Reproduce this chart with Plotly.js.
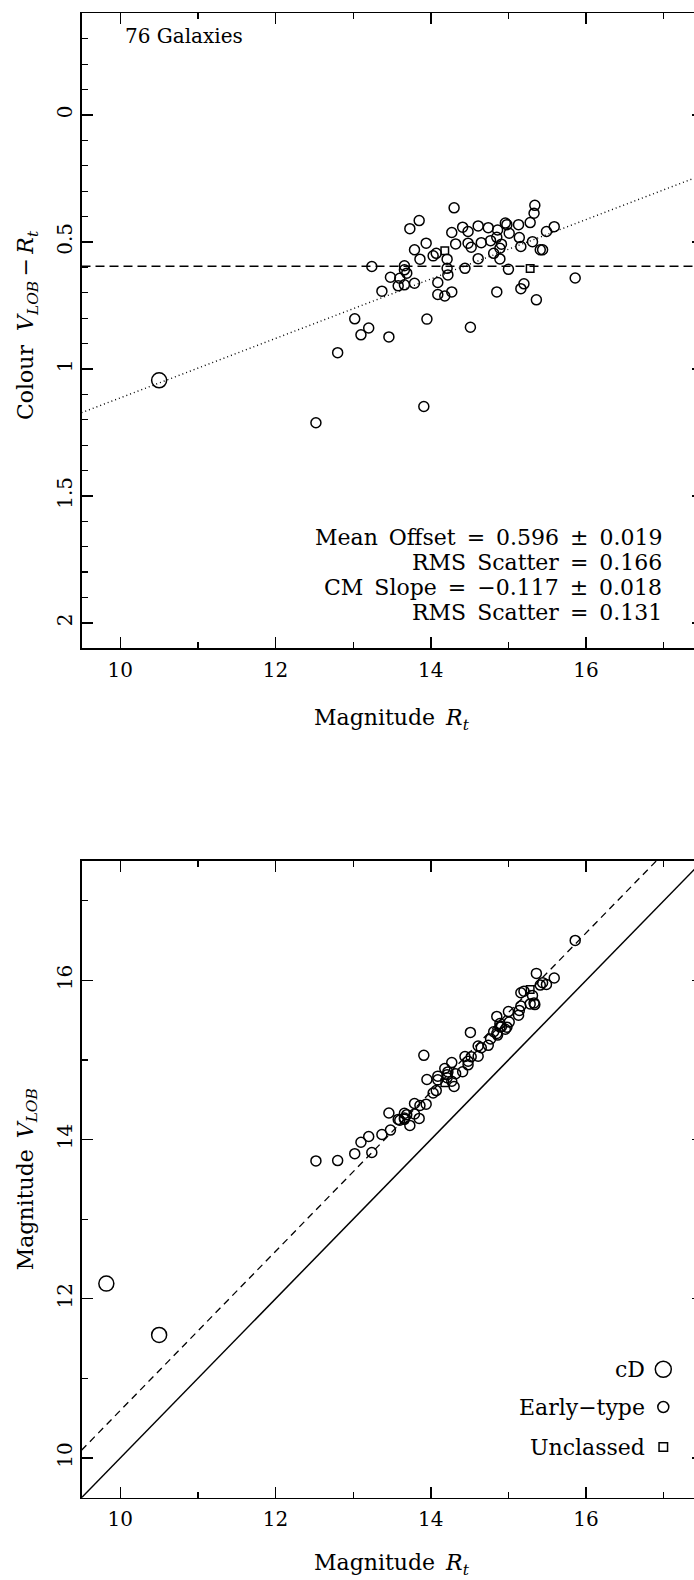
<!DOCTYPE html>
<html>
<head>
<meta charset="utf-8">
<script src="https://cdn.plot.ly/plotly-3.0.1.min.js"></script>
<style>
  html, body { margin: 0; padding: 0; background: #fff; overflow: hidden; }
  #chart { width: 720px; height: 1580px; }
</style>
</head>
<body>
<div id="chart"></div>
<script>
// Total magnitude R_t, colour V_LOB - R_t and morphological class for each galaxy
// (cD = central dominant, E = early-type, U = unclassed)
const rMag = [
  14.30, 15.34, 15.33, 13.85, 13.73, 14.41, 14.48, 14.61, 14.74, 14.86,
  14.96, 14.98, 15.13, 15.28, 14.27, 15.01, 13.94, 14.32, 14.48, 14.52,
  14.65, 14.77, 14.85, 14.91, 15.14, 15.16, 15.31, 15.41, 15.44, 15.49,
  15.59, 13.79, 13.86, 14.03, 14.07, 14.18, 14.21, 14.21, 14.22, 14.09,
  14.09, 14.18, 14.27, 14.44, 14.61, 14.81, 14.89, 14.89, 15.00, 15.28,
  13.24, 13.66, 13.66, 13.69, 13.48, 13.60, 13.58, 13.66, 13.79, 13.37,
  14.85, 15.16, 15.20, 15.36, 15.86, 13.02, 13.20, 13.10, 13.46, 13.95,
  14.51, 12.80, 12.52, 13.91, 10.50, 9.82
];
const colour = [
  0.366, 0.356, 0.387, 0.416, 0.448, 0.442, 0.459, 0.437, 0.444, 0.453,
  0.426, 0.432, 0.432, 0.424, 0.463, 0.466, 0.505, 0.508, 0.505, 0.521,
  0.503, 0.495, 0.482, 0.509, 0.483, 0.518, 0.499, 0.531, 0.531, 0.459,
  0.440, 0.531, 0.568, 0.555, 0.545, 0.535, 0.568, 0.604, 0.630, 0.660,
  0.707, 0.713, 0.697, 0.604, 0.566, 0.545, 0.567, 0.525, 0.608, 0.605,
  0.597, 0.594, 0.610, 0.623, 0.639, 0.643, 0.673, 0.669, 0.663, 0.694,
  0.697, 0.684, 0.665, 0.728, 0.642, 0.803, 0.839, 0.866, 0.874, 0.804,
  0.836, 0.936, 1.212, 1.148, 1.045, 2.370
];
const galType = [
  'E','E','E','E','E','E','E','E','E','E',
  'E','E','E','E','E','E','E','E','E','E',
  'E','E','E','E','E','E','E','E','E','E',
  'E','E','E','E','E','U','E','E','E','E',
  'E','E','E','E','E','E','E','E','E','U',
  'E','E','E','E','E','E','E','E','E','E',
  'E','E','E','E','E','E','E','E','E','E',
  'E','E','E','E','cD','cD'
];

// Fit results quoted on the colour-magnitude panel
const meanOffset = 0.596;
const meanOffsetErr = 0.019;
const offsetScatter = 0.166;
const cmSlope = -0.117;
const cmSlopeErr = 0.018;
const cmScatter = 0.131;
const cmIntercept = 2.284;

const magRange = [9.5, 17.5];
const colourRange = [2.1, -0.4];
const nGalaxies = rMag.length;

const classStyle = {
  cD: { symbol: 'circle-open', size: 15 },
  E:  { symbol: 'circle-open', size: 10 },
  U:  { symbol: 'square-open', size: 7.5 }
};
const legendOrder = [
  ['cD', 'cD'],
  ['E', 'Early\u2212type'],
  ['U', 'Unclassed']
];

// V_LOB follows from R_t and the measured colour
const vMag = rMag.map((r, i) => r + colour[i]);

// page geometry helpers (pixel -> paper fraction)
const W = 720, H = 1580;
const px = x => x / W;
const py = y => 1 - y / H;

const FONT = 'DejaVu Serif, Liberation Serif, serif';
const SP = '\u2002';   // wide space, as in the plotting package's lettering
const FIG = '\u2007';  // figure space
const THIN = '\u2009'; // thin space
const traces = [];

// reference lines
traces.push({
  x: magRange, y: [meanOffset, meanOffset], xaxis: 'x', yaxis: 'y',
  mode: 'lines', line: { color: '#000', width: 1.6, dash: '9px,5px' },
  hoverinfo: 'skip'
});
traces.push({
  x: magRange, y: magRange.map(m => cmIntercept + cmSlope * m), xaxis: 'x', yaxis: 'y',
  mode: 'lines', line: { color: '#000', width: 1.4, dash: '1px,3px' },
  hoverinfo: 'skip'
});
traces.push({
  x: magRange, y: magRange, xaxis: 'x2', yaxis: 'y2',
  mode: 'lines', line: { color: '#000', width: 1.5 },
  hoverinfo: 'skip'
});
traces.push({
  x: magRange, y: magRange.map(m => m + meanOffset), xaxis: 'x2', yaxis: 'y2',
  mode: 'lines', line: { color: '#000', width: 1.3, dash: '7px,5px' },
  hoverinfo: 'skip'
});

// galaxies, one trace per class on each panel
legendOrder.forEach(([cls]) => {
  const idx = galType.map((t, i) => t === cls ? i : -1).filter(i => i >= 0);
  const st = classStyle[cls];
  const marker = { symbol: st.symbol, size: st.size, color: '#000', line: { color: '#000', width: 1.5 } };
  traces.push({
    x: idx.map(i => rMag[i]), y: idx.map(i => colour[i]), xaxis: 'x', yaxis: 'y',
    mode: 'markers', marker: marker, name: cls
  });
  traces.push({
    x: idx.map(i => rMag[i]), y: idx.map(i => vMag[i]), xaxis: 'x2', yaxis: 'y2',
    mode: 'markers', marker: marker, name: cls
  });
});

function axisBase(extra) {
  return Object.assign({
    showgrid: false, zeroline: false, showline: true, linecolor: '#000', linewidth: 1.6,
    mirror: 'ticks', ticks: 'inside', ticklen: 11, tickwidth: 1.4, tickcolor: '#000',
    tickfont: { family: FONT, size: 20, color: '#000' },
    automargin: false, fixedrange: true
  }, extra);
}

const xDomain = [px(81.5), px(702.5)];
const layout = {
  width: W, height: H,
  margin: { l: 0, r: 0, t: 0, b: 0 },
  paper_bgcolor: '#fff', plot_bgcolor: '#fff',
  showlegend: false,
  font: { family: FONT, size: 20, color: '#000' },
  xaxis: axisBase({
    domain: xDomain, anchor: 'y', range: magRange, tick0: 10, dtick: 2, ticklabelstandoff: 3,
    minor: { dtick: 1, ticks: 'inside', ticklen: 6, tickwidth: 1.2, tickcolor: '#000' }
  }),
  yaxis: axisBase({
    domain: [py(648.3), py(13.3)], anchor: 'x', range: colourRange, tick0: 0, dtick: 0.5,
    tickangle: -90,
    minor: { dtick: 0.1, ticks: 'inside', ticklen: 6, tickwidth: 1.2, tickcolor: '#000' }
  }),
  xaxis2: axisBase({
    domain: xDomain, anchor: 'y2', range: magRange, tick0: 10, dtick: 2, ticklabelstandoff: 3,
    minor: { dtick: 1, ticks: 'inside', ticklen: 6, tickwidth: 1.2, tickcolor: '#000' }
  }),
  yaxis2: axisBase({
    domain: [py(1497.7), py(861)], anchor: 'x2', range: magRange, tick0: 10, dtick: 2,
    tickangle: -90,
    minor: { dtick: 1, ticks: 'inside', ticklen: 6, tickwidth: 1.2, tickcolor: '#000' }
  }),
  annotations: [],
  shapes: []
};

const ann = (text, x, y, opts) => Object.assign({
  text: text, x: x, y: y, xref: 'paper', yref: 'paper', showarrow: false,
  font: { family: FONT, size: 22, color: '#000' }, xanchor: 'center', yanchor: 'middle'
}, opts || {});

const fmt = v => (v < 0 ? '\u2212' : '') + Math.abs(v).toFixed(3);

// top panel text
layout.annotations.push(ann(nGalaxies + ' Galaxies', px(123), py(36),
  { xanchor: 'left', font: { family: FONT, size: 20, color: '#000' } }));
const stats = [
  ['Mean', 'Offset', '=', fmt(meanOffset), '\u00b1', fmt(meanOffsetErr)],
  ['RMS', 'Scatter', '=', fmt(offsetScatter)],
  ['CM', 'Slope', '=', fmt(cmSlope), '\u00b1', fmt(cmSlopeErr)],
  ['RMS', 'Scatter', '=', fmt(cmScatter)]
];
const statY = [537.3, 562.7, 587.3, 612.7];
stats.forEach((s, i) => layout.annotations.push(ann(s.join(SP), px(663.5), py(statY[i]), { xanchor: 'right' })));

// axis titles
const magTitle = 'Magnitude' + SP + '<i>R</i><sub><i>t</i></sub>';
layout.annotations.push(ann(magTitle, px(392), py(719)));
layout.annotations.push(ann('Colour' + FIG + '<i>V</i><sub><i>LOB</i></sub>' + THIN + '\u2212' + THIN + '<i>R</i><sub><i>t</i></sub>',
  px(27), py(325), { textangle: -90 }));
layout.annotations.push(ann(magTitle, px(392), py(1564)));
layout.annotations.push(ann('Magnitude' + SP + '<i>V</i><sub><i>LOB</i></sub>', px(27), py(1179.3), { textangle: -90 }));

// class key on the lower panel: label on the left, symbol on the right
const keyY = [1369.3, 1407, 1447];
legendOrder.forEach(([cls, label], i) => {
  layout.annotations.push(ann(label, px(646.5), py(keyY[i]), { xanchor: 'right' }));
  const st = classStyle[cls];
  const r = st.size / 2 + 0.5;
  layout.shapes.push({
    type: st.symbol.startsWith('circle') ? 'circle' : 'rect',
    xref: 'paper', yref: 'paper', xsizemode: 'pixel', ysizemode: 'pixel',
    xanchor: px(663.3), yanchor: py(keyY[i]),
    x0: -r, x1: r, y0: -r, y1: r,
    line: { color: '#000', width: 1.5 }, fillcolor: 'rgba(0,0,0,0)'
  });
});

Plotly.newPlot('chart', traces, layout, { staticPlot: true, displayModeBar: false });
</script>
</body>
</html>
